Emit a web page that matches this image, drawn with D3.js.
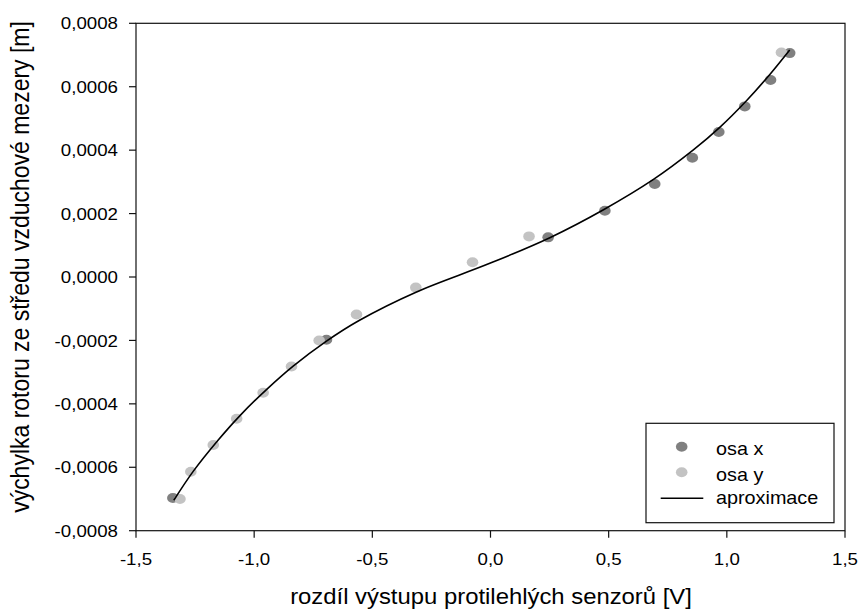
<!DOCTYPE html>
<html><head><meta charset="utf-8">
<script src="https://cdn.jsdelivr.net/npm/d3@7"></script>
<style>
body{margin:0;background:#fff;}
text{font-family:"Liberation Sans",Arial,sans-serif;fill:#000;}
</style></head>
<body><svg id="c" width="861" height="612"></svg>
<script>
// data (x in V, y in m)
const osaX_x = [-1.344,-0.694,0.244,0.484,0.695,0.854,0.966,1.076,1.185,1.266];
const osaX_y = [-0.000697,-0.000198,0.000125,0.000209,0.000293,0.000376,0.000457,0.000538,0.000621,0.000706];
const osaY_x = [-1.314,-1.268,-1.173,-1.074,-0.962,-0.842,-0.725,-0.567,-0.316,-0.076,0.163,1.231];
const osaY_y = [-0.000700,-0.000614,-0.000530,-0.000447,-0.000365,-0.000282,-0.000200,-0.000118,-0.0000335,0.0000465,0.000128,0.000708];
const approx_x = [-1.340,-1.258,-1.152,-1.060,-0.948,-0.835,-0.694,-0.556,-0.313,-0.003,0.251,0.480,0.688,0.857,0.970,1.083,1.181,1.266];
const approx_y = [-0.000704,-0.000613,-0.000514,-0.000437,-0.000355,-0.000281,-0.000202,-0.000137,-0.000047,0.000043,0.000124,0.000213,0.000307,0.000400,0.000472,0.000556,0.000638,0.000716];
const xTicks = [-1.5,-1.0,-0.5,0.0,0.5,1.0,1.5];
const yTicks = [-0.0008,-0.0006,-0.0004,-0.0002,0,0.0002,0.0004,0.0006,0.0008];
const seriesNames = ["osa x","osa y","aproximace"];
const colors = {dark:"#808080", light:"#c3c3c3"};

const svg = d3.select("#c");
const L=136, R=845, T=23.3, B=530.7;
const x = d3.scaleLinear().domain([-1.5,1.5]).range([L,R]);
const y = d3.scaleLinear().domain([-0.0008,0.0008]).range([B,T]);
const SX = 1.1;

// frame
svg.append("rect").attr("x",L).attr("y",T).attr("width",R-L).attr("height",B-T)
  .attr("fill","none").attr("stroke","#111").attr("stroke-width",1.2);

// ticks
const fy = d3.format(".4f"), fx = d3.format(".1f");
const comma = s => s.replace("−","-").replace(".",",");
yTicks.forEach(v=>{
  svg.append("line").attr("x1",L-7).attr("x2",L).attr("y1",y(v)).attr("y2",y(v)).attr("stroke","#111").attr("stroke-width",1.2);
  svg.append("g").attr("transform",`translate(${L-18},${y(v)}) scale(${SX},1)`)
    .append("text").attr("text-anchor","end").attr("dy","0.36em").attr("font-size",17).text(comma(fy(v)));
});
xTicks.forEach(v=>{
  svg.append("line").attr("x1",x(v)).attr("x2",x(v)).attr("y1",B).attr("y2",B+7).attr("stroke","#111").attr("stroke-width",1.2);
  svg.append("g").attr("transform",`translate(${x(v)},565) scale(${SX},1)`)
    .append("text").attr("text-anchor","middle").attr("font-size",17).text(comma(fx(v)));
});

// titles
svg.append("g").attr("transform",`translate(491,604) scale(1.11,1)`)
  .append("text").attr("text-anchor","middle").attr("font-size",21.5).text("rozdíl výstupu protilehlých senzorů [V]");
svg.append("g").attr("transform",`translate(28.5,267) scale(1.1,1) rotate(-90)`)
  .append("text").attr("text-anchor","middle").attr("font-size",23).text("výchylka rotoru ze středu vzduchové mezery [m]");

// points
const g = svg.append("g");
g.selectAll(".px").data(osaX_x.map((d,i)=>[d,osaX_y[i]])).join("ellipse")
  .attr("cx",d=>x(d[0])).attr("cy",d=>y(d[1])).attr("rx",5.8).attr("ry",5).attr("fill",colors.dark);
g.selectAll(".py").data(osaY_x.map((d,i)=>[d,osaY_y[i]])).join("ellipse")
  .attr("cx",d=>x(d[0])).attr("cy",d=>y(d[1])).attr("rx",5.8).attr("ry",5).attr("fill",colors.light);

// approximation line
const line = d3.line().x(d=>x(d[0])).y(d=>y(d[1])).curve(d3.curveCatmullRom.alpha(0.5));
svg.append("path").datum(approx_x.map((d,i)=>[d,approx_y[i]]))
  .attr("d",line).attr("fill","none").attr("stroke","#000").attr("stroke-width",1.6);

// legend
const lg = svg.append("g");
lg.append("rect").attr("x",646).attr("y",423.3).attr("width",188).attr("height",99.4)
  .attr("fill","#fff").attr("stroke","#111").attr("stroke-width",1.2);
lg.append("ellipse").attr("cx",681.7).attr("cy",446.7).attr("rx",5.8).attr("ry",5).attr("fill",colors.dark);
lg.append("ellipse").attr("cx",681.7).attr("cy",472.3).attr("rx",5.8).attr("ry",5).attr("fill",colors.light);
lg.append("line").attr("x1",660.7).attr("x2",703.3).attr("y1",498.3).attr("y2",498.3).attr("stroke","#000").attr("stroke-width",1.6);
[[455,seriesNames[0]],[480.5,seriesNames[1]],[503.5,seriesNames[2]]].forEach(([by,t])=>{
  lg.append("g").attr("transform",`translate(716,${by}) scale(${SX},1)`)
    .append("text").attr("font-size",18).text(t);
});
</script></body></html>
